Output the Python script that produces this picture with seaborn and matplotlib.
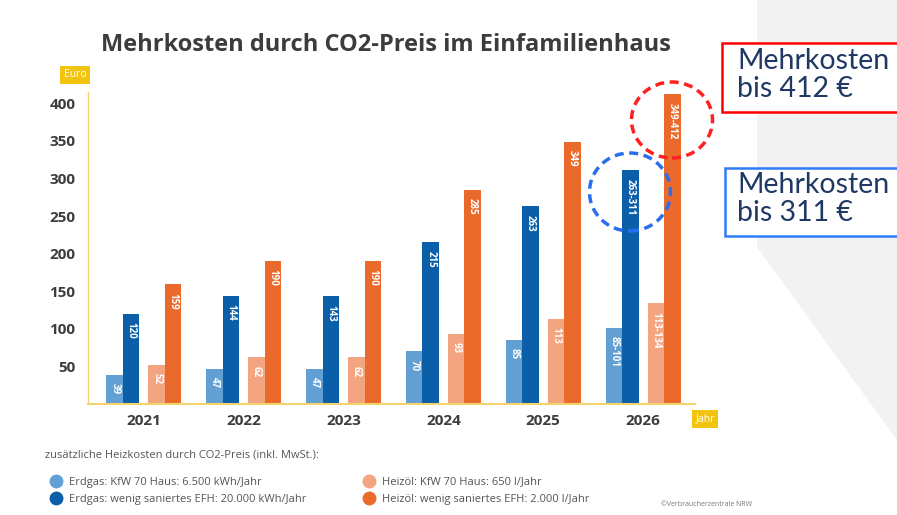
import matplotlib.pyplot as plt
import matplotlib.patches as mpatches
from matplotlib.lines import Line2D
import seaborn as sns
import pandas as pd

# Daten
years = ['2021', '2022', '2023', '2024', '2025', '2026']
series = ['Erdgas: KfW 70 Haus: 6.500 kWh/Jahr',
          'Erdgas: wenig saniertes EFH: 20.000 kWh/Jahr',
          'Heizöl: KfW 70 Haus: 650 l/Jahr',
          'Heizöl: wenig saniertes EFH: 2.000 l/Jahr']
gas_kfw = [39, 47, 47, 70, 85, 101]
gas_efh = [120, 144, 143, 215, 263, 311]
oil_kfw = [52, 62, 62, 93, 113, 134]
oil_efh = [159, 190, 190, 285, 349, 412]
gas_kfw_lbl = ['39', '47', '47', '70', '85', '85-101']
gas_efh_lbl = ['120', '144', '143', '215', '263', '263-311']
oil_kfw_lbl = ['52', '62', '62', '93', '113', '113-134']
oil_efh_lbl = ['159', '190', '190', '285', '349', '349-412']
yticks = [50, 100, 150, 200, 250, 300, 350, 400]

colors = ['#62a0d3', '#0b5fa8', '#f3a481', '#ea6a2c']
values = [gas_kfw, gas_efh, oil_kfw, oil_efh]
labels = [gas_kfw_lbl, gas_efh_lbl, oil_kfw_lbl, oil_efh_lbl]

df = pd.DataFrame({
    'Jahr': years * 4,
    'Serie': [s for s in series for _ in years],
    'Euro': [v for vals in values for v in vals],
})

sns.set_style('white')
plt.rcParams['font.family'] = ['Open Sans', 'DejaVu Sans']

fig = plt.figure(figsize=(8.97, 5.15), dpi=100)
fig.patch.set_facecolor('white')

# grauer Folienhintergrund rechts
fig.add_artist(mpatches.Polygon([(757 / 897, 1), (1, 1), (1, 1 - 440 / 515), (757 / 897, 1 - 247 / 515)],
                                closed=True, transform=fig.transFigure, fc='#f2f2f2', ec='none', zorder=-1))

ax = fig.add_axes([88 / 897, 1 - 404 / 515, (695 - 88) / 897, (404 - 92) / 515])
ax.set_facecolor('none')

sns.barplot(data=df, x='Jahr', y='Euro', hue='Serie', hue_order=series, palette=colors,
            width=0.66, saturation=1, errorbar=None, legend=False, ax=ax)

# Lücke zwischen Erdgas- und Heizöl-Paar
for i, cont in enumerate(ax.containers):
    shift = -0.045 if i < 2 else 0.045
    for bar, lbl in zip(cont, labels[i]):
        bar.set_x(bar.get_x() + shift)
        bar.set_edgecolor('none')
        ax.annotate(lbl, (bar.get_x() + bar.get_width() / 2, bar.get_height()),
                    xytext=(0, -6), textcoords='offset points', rotation=270,
                    ha='center', va='top', color='white', fontsize=7, fontweight='bold')

ax.set_xlim(-0.56, 5.52)
ax.set_ylim(0, 415)
ax.set_yticks(yticks)
ax.set_xlabel('')
ax.set_ylabel('')
sns.despine(ax=ax)
for side in ['left', 'bottom']:
    ax.spines[side].set_color('#f3d36e')
ax.spines['left'].set_linewidth(1.0)
ax.spines['bottom'].set_linewidth(1.5)
ax.tick_params(axis='y', length=5, color='#f3d36e', pad=4, labelsize=11, labelcolor='#3d3d3d')
ax.tick_params(axis='x', length=0, pad=7, labelsize=11, labelcolor='#3d3d3d')
for t in ax.get_xticklabels() + ax.get_yticklabels():
    t.set_fontweight('bold')

# Titel und Achsenbeschriftungen
fig.text(386 / 897, 1 - 45 / 515, 'Mehrkosten durch CO2-Preis im Einfamilienhaus',
         ha='center', va='center', fontsize=17, fontweight='bold', color='#3c3c3c')
fig.text(75 / 897, 1 - 75 / 515, 'Euro', ha='center', va='center', fontsize=7.5, color='white',
         bbox=dict(boxstyle='square,pad=0.35', fc='#f2c30f', ec='none'))
fig.text(705 / 897, 1 - 419 / 515, 'Jahr', ha='center', va='center', fontsize=7.5, color='white',
         bbox=dict(boxstyle='square,pad=0.35', fc='#f2c30f', ec='none'))

# Legende
fig.text(45 / 897, 1 - 455 / 515, 'zusätzliche Heizkosten durch CO2-Preis (inkl. MwSt.):',
         ha='left', va='center', fontsize=8, color='#555555')
handles = [Line2D([], [], marker='o', ls='none', markersize=10, markerfacecolor=c, markeredgecolor='none')
           for c in colors]
for k, xpos in enumerate([45 / 897, 358 / 897]):
    leg = fig.legend(handles[2 * k:2 * k + 2], series[2 * k:2 * k + 2], loc='upper left',
                     bbox_to_anchor=(xpos, 1 - 471 / 515), frameon=False, fontsize=8,
                     handlelength=1.0, handletextpad=0.7, labelspacing=0.6, borderpad=0)
    for t in leg.get_texts():
        t.set_color('#555555')
fig.text(752 / 897, 1 - 505 / 515, '©Verbraucherzentrale NRW', ha='right', va='center',
         fontsize=5, color='#777777')

# Hervorhebungen
fig.add_artist(mpatches.Ellipse((672 / 897, 1 - 120 / 515), 81 / 897, 76 / 515, transform=fig.transFigure,
                                fill=False, ec='#ff2020', lw=2.5, ls=(0, (2.6, 1.6)), zorder=5))
fig.add_artist(mpatches.Ellipse((630 / 897, 1 - 192 / 515), 81 / 897, 78 / 515, transform=fig.transFigure,
                                fill=False, ec='#2a6ef0', lw=2.5, ls=(0, (2.6, 1.6)), zorder=5))
fig.add_artist(mpatches.Rectangle((722 / 897, 1 - 112 / 515), 180 / 897, 69 / 515, transform=fig.transFigure,
                                  fc='white', ec='#ff0000', lw=1.8, zorder=4))
fig.add_artist(mpatches.Rectangle((725 / 897, 1 - 236 / 515), 180 / 897, 68 / 515, transform=fig.transFigure,
                                  fc='white', ec='#2f7cf6', lw=1.8, zorder=4))
fig.text(737 / 897, 1 - 48 / 515, 'Mehrkosten\nbis 412 €', ha='left', va='top', fontsize=20.5,
         color='#1f3864', family=['Lato', 'DejaVu Sans'], linespacing=1.1, zorder=6)
fig.text(737 / 897, 1 - 172 / 515, 'Mehrkosten\nbis 311 €', ha='left', va='top', fontsize=20.5,
         color='#1f3864', family=['Lato', 'DejaVu Sans'], linespacing=1.1, zorder=6)

fig.savefig('out.png', dpi=100)
